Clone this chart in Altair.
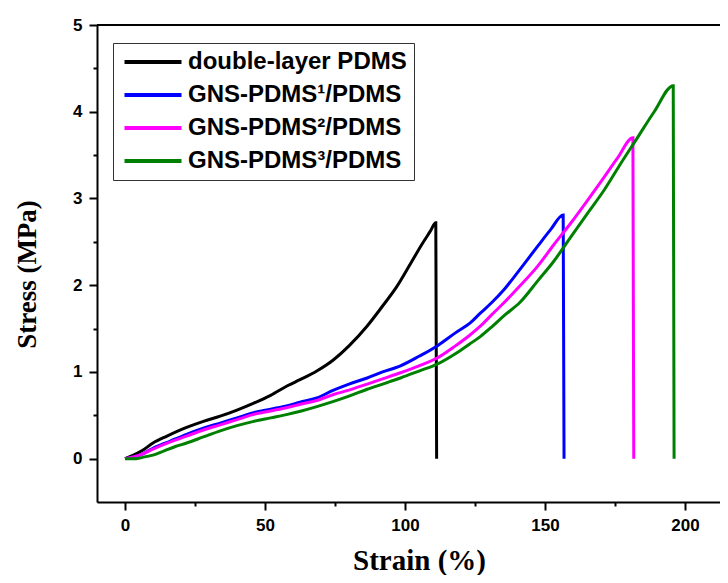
import altair as alt
import pandas as pd

series = ["double-layer PDMS", "GNS-PDMS¹/PDMS", "GNS-PDMS²/PDMS", "GNS-PDMS³/PDMS"]
colors = ["#000000", "#0000FF", "#FF00FF", "#008000"]

black_x = [0, 3, 6, 10, 15, 22, 28, 34, 40, 46, 52, 58, 62.5, 68.5, 74.5, 80, 86.5, 92, 97, 102, 106, 109, 111, 111.3]
black_y = [0, 0.04, 0.09, 0.18, 0.26, 0.36, 0.43, 0.49, 0.56, 0.64, 0.73, 0.84, 0.91, 1.01, 1.14, 1.30, 1.53, 1.76, 1.98, 2.25, 2.47, 2.62, 2.72, 0]

blue_x = [0, 3, 6, 10, 16, 22, 28, 34, 40, 46, 52, 58, 62.5, 68.5, 74.5, 80, 86.5, 92, 98.4, 105, 111.5, 118, 123.5, 127, 131, 135.4, 141, 147.4, 152, 156.5, 156.8]
blue_y = [0, 0.02, 0.05, 0.12, 0.20, 0.28, 0.35, 0.41, 0.47, 0.53, 0.57, 0.61, 0.65, 0.70, 0.79, 0.86, 0.93, 1.00, 1.07, 1.18, 1.30, 1.45, 1.57, 1.68, 1.80, 1.95, 2.18, 2.45, 2.64, 2.81, 0]

magenta_x = [0, 3, 6, 10, 16, 22, 28, 34, 40, 46, 52, 58, 63, 68.5, 74.5, 80, 86.5, 92, 98.4, 105, 111.5, 118, 123, 127, 131, 135.4, 141, 147.4, 153, 159.3, 165, 171.2, 176, 181.4, 181.7]
magenta_y = [0, 0.02, 0.05, 0.11, 0.19, 0.26, 0.33, 0.39, 0.45, 0.51, 0.55, 0.59, 0.63, 0.67, 0.74, 0.79, 0.86, 0.92, 0.99, 1.07, 1.16, 1.30, 1.42, 1.53, 1.66, 1.80, 1.99, 2.22, 2.46, 2.72, 2.97, 3.25, 3.47, 3.70, 0]

green_x = [0, 4, 7, 10, 14, 18, 22, 28, 34, 40, 46, 52, 58, 63, 68.5, 74.5, 80, 86.5, 92, 98.4, 105, 111.5, 118, 123, 127, 131, 135.4, 141, 147.4, 153, 159.3, 165, 171.2, 177, 183.2, 189, 195.8, 196.1]
green_y = [0, 0.0, 0.02, 0.04, 0.09, 0.14, 0.18, 0.25, 0.32, 0.38, 0.43, 0.47, 0.51, 0.55, 0.60, 0.66, 0.72, 0.80, 0.86, 0.93, 1.01, 1.09, 1.21, 1.32, 1.41, 1.52, 1.65, 1.80, 2.05, 2.27, 2.56, 2.82, 3.10, 3.40, 3.71, 4.00, 4.30, 0]

x_ticks = [0, 25, 50, 75, 100, 125, 150, 175, 200]
y_ticks = [0, 0.5, 1, 1.5, 2, 2.5, 3, 3.5, 4, 4.5, 5]

rows = []
for i, (name, xs, ys) in enumerate(zip(series, [black_x, blue_x, magenta_x, green_x],
                                       [black_y, blue_y, magenta_y, green_y])):
    for j, (x, y) in enumerate(zip(xs, ys)):
        rows.append({"series": name, "strain": x, "stress": y, "order": j, "grp": i})
df = pd.DataFrame(rows)

tick_font = "Liberation Sans, Arial, sans-serif"
title_font = "Liberation Serif, Times New Roman, serif"

xscale = alt.Scale(domain=[-10, 212.5], nice=False, zero=False)
yscale = alt.Scale(domain=[-0.5, 5], nice=False, zero=False)

lines = alt.Chart(df).mark_line(strokeWidth=3, interpolate="monotone").encode(
    x=alt.X("strain:Q", scale=xscale,
            axis=alt.Axis(values=x_ticks, title="Strain (%)",
                          labelExpr="datum.value % 50 === 0 ? format(datum.value, 'd') : ''",
                          tickSize={"condition": {"test": "datum.value % 50 !== 0", "value": 4}, "value": 8},
                          labelPadding=7, titleX=322, titleY=58, titleBaseline="middle",
                          titleFontSize=29)),
    y=alt.Y("stress:Q", scale=yscale,
            axis=alt.Axis(values=y_ticks, title="Stress (MPa)",
                          labelExpr="datum.value % 1 === 0 ? format(datum.value, 'd') : ''",
                          tickSize={"condition": {"test": "datum.value % 1 !== 0", "value": 4}, "value": 8},
                          labelPadding=7, titleX=-70, titleY=249, titleBaseline="middle",
                          titleFontSize=27)),
    color=alt.Color("series:N", sort=series,
                    scale=alt.Scale(domain=series, range=colors),
                    legend=alt.Legend(title=None, orient="none", legendX=16, legendY=18,
                                      symbolType="M-4,0H4", symbolStrokeWidth=4, symbolSize=203,
                                      symbolOffset=21, symbolFillColor="transparent",
                                      labelFont=tick_font, labelFontSize=24, labelFontWeight="bold",
                                      labelColor="black", labelLimit=400, labelOffset=23,
                                      strokeColor="#333333", fillColor="white", padding=7,
                                      rowPadding=9, cornerRadius=0)),
    order=alt.Order("order:Q"),
    detail="grp:N",
)

top_line = alt.Chart(df).mark_rule(color="black", strokeWidth=2).encode(y=alt.datum(5))

chart = alt.layer(lines, top_line).properties(
    width=623, height=477,
    autosize=alt.AutoSizeParams(type="none"),
    padding={"left": 89, "top": 17, "right": 0, "bottom": 73},
).configure_view(stroke=None).configure_axis(
    grid=False, domainColor="black", domainWidth=2, tickColor="black", tickWidth=2,
    labelFont=tick_font, labelFontSize=17, labelFontWeight="bold", labelColor="black",
    titleFont=title_font, titleFontWeight="bold", titleColor="black",
)

chart.save("out.html", embed_options={"renderer": "svg", "actions": False})
